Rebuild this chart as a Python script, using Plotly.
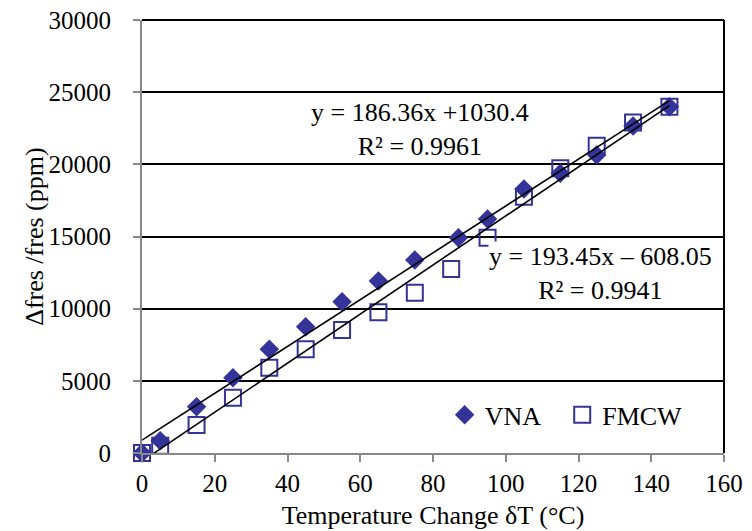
import numpy as np
import plotly.graph_objects as go

# Data
vna_x = [0, 5, 15, 25, 35, 45, 55, 65, 75, 87, 95, 105, 115, 125, 135, 145]
vna_y = [0, 850, 3210, 5220, 7180, 8750, 10480, 11920, 13370, 14920, 16210, 18290, 19380, 20650, 22660, 23990]
fmcw_x = [0, 5, 15, 25, 35, 45, 55, 65, 75, 85, 95, 105, 115, 125, 135, 145]
fmcw_y = [0, 500, 1940, 3830, 5910, 7180, 8520, 9750, 11110, 12750, 14920, 17760, 19720, 21290, 22890, 23990]

eq_vna = "y = 186.36x +1030.4<br>R² = 0.9961"
eq_fmcw = "y = 193.45x – 608.05<br>R² = 0.9941"

x_ticks = [0, 20, 40, 60, 80, 100, 120, 140, 160]
y_ticks = [0, 5000, 10000, 15000, 20000, 25000, 30000]

FONT = "Liberation Serif"
BLUE = "#333399"

fig = go.Figure()

fig.add_trace(go.Scatter(
    x=fmcw_x, y=fmcw_y, mode="markers", name="FMCW", legend="legend2",
    marker=dict(symbol="square-open", size=16, color=BLUE, line=dict(width=2, color=BLUE)),
    cliponaxis=False,
))
fig.add_trace(go.Scatter(
    x=vna_x, y=vna_y, mode="markers", name="VNA", legend="legend",
    marker=dict(symbol="diamond", size=15, color=BLUE, line=dict(width=0)),
    cliponaxis=False,
))

# Linear trendlines fitted to the data
for xs, ys in ((vna_x, vna_y), (fmcw_x, fmcw_y)):
    k, b = np.polyfit(xs, ys, 1)
    xl = np.array([min(xs), max(xs)], dtype=float)
    fig.add_trace(go.Scatter(x=xl, y=k * xl + b, mode="lines", showlegend=False,
                             line=dict(color="black", width=1.6), hoverinfo="skip"))

fig.add_annotation(x=0.478, y=0.746, xref="paper", yref="paper", text=eq_vna,
                   xanchor="center", yanchor="middle",
                   showarrow=False, font=dict(family=FONT, size=26, color="black"),
                   align="center", bgcolor="white", borderpad=0)
fig.add_annotation(x=0.787, y=0.415, xref="paper", yref="paper", text=eq_fmcw,
                   xanchor="center", yanchor="middle",
                   showarrow=False, font=dict(family=FONT, size=26, color="black"),
                   align="center", bgcolor="white", borderpad=0)

# y axis title
fig.add_annotation(x=-0.185, y=0.5, xref="paper", yref="paper", text="Δfres /fres (ppm)",
                   textangle=-90, xanchor="center", yanchor="middle", showarrow=False,
                   font=dict(family=FONT, size=26, color="black"))

# top and right borders
fig.add_shape(type="line", xref="paper", yref="paper", x0=0, x1=1, y0=1, y1=1,
              line=dict(color="black", width=2))
fig.add_shape(type="line", xref="paper", yref="paper", x0=1, x1=1, y0=0, y1=1,
              line=dict(color="black", width=2))

leg = dict(orientation="h", y=0.088, xanchor="left", yanchor="middle",
           font=dict(family=FONT, size=26), bgcolor="rgba(0,0,0,0)", itemwidth=30)

fig.update_layout(
    width=752, height=531,
    margin=dict(l=142, r=28, t=20, b=78, autoexpand=False),
    paper_bgcolor="white", plot_bgcolor="white",
    font=dict(family=FONT, size=25, color="black"),
    legend=dict(leg, x=0.52),
    legend2=dict(leg, x=0.722),
    showlegend=True,
)
fig.update_xaxes(
    range=[0, 160], tickvals=x_ticks, ticks="outside", ticklen=7, tickwidth=2,
    tickcolor="#888888", showline=True, linecolor="#888888", linewidth=2,
    showgrid=False, zeroline=False, automargin=False,
    title=dict(text="Temperature Change δT (°C)", font=dict(size=26), standoff=10),
    ticklabelstandoff=0,
)
fig.update_yaxes(
    range=[0, 30000], tickvals=y_ticks, tickformat="d", ticks="outside", ticklen=7, tickwidth=2,
    tickcolor="#888888", showline=True, linecolor="#888888", linewidth=2,
    showgrid=True, gridcolor="black", gridwidth=1.5, zeroline=False, automargin=False,
    ticklabelstandoff=17,
)

fig.write_html("out.html")
